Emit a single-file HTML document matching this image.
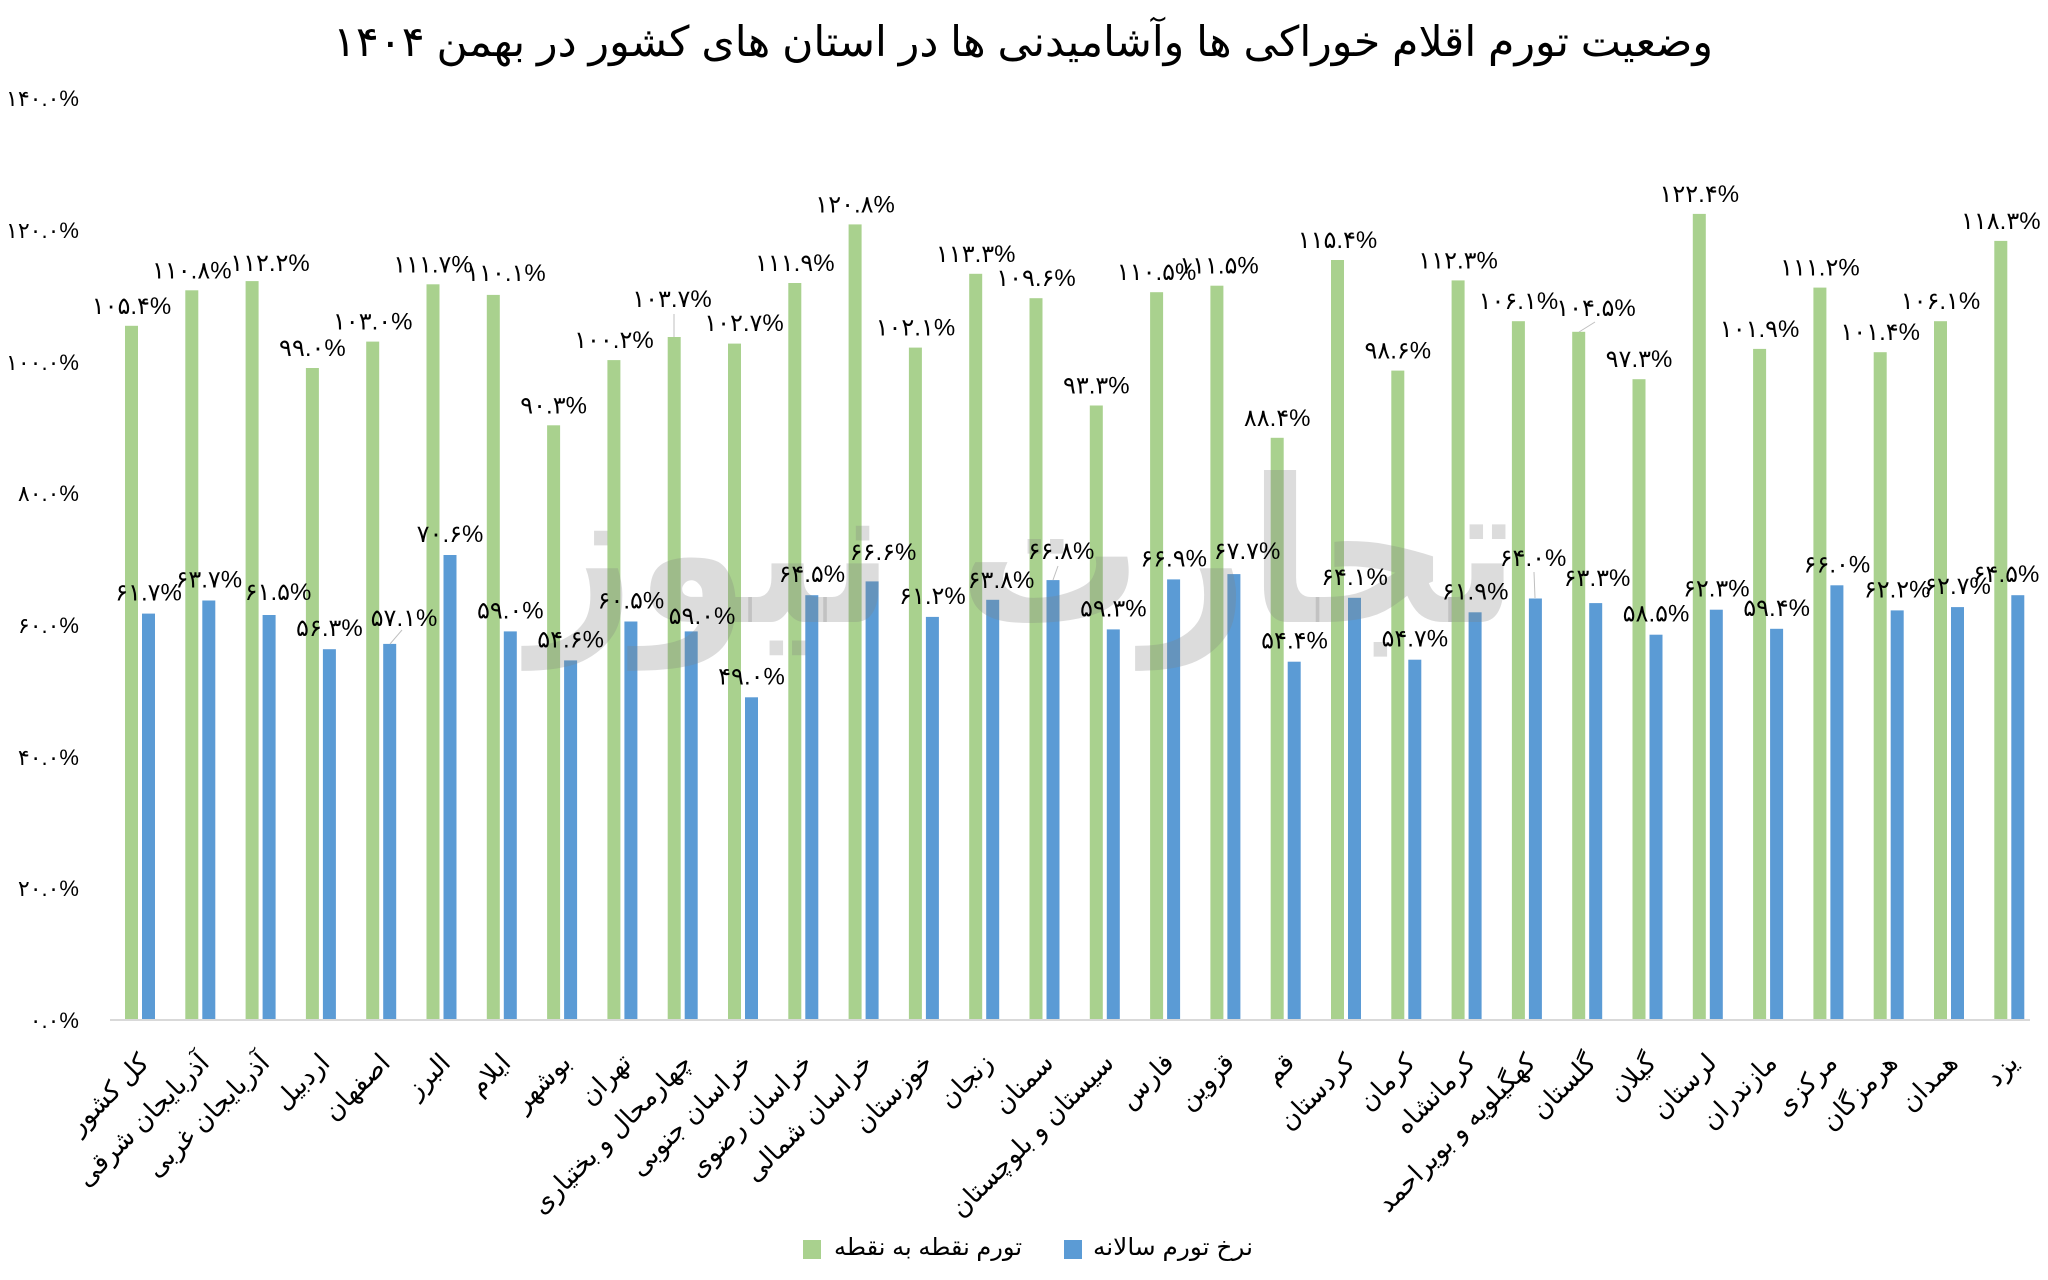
<!DOCTYPE html>
<html><head><meta charset="utf-8"><style>
html,body{margin:0;padding:0;background:#fff;}
svg{display:block;}
text{font-family:"Liberation Sans","DejaVu Sans",sans-serif;fill:#000;}
.t{font-size:42px;}
.y{font-size:22px;}
.d{font-size:24px;}
.x{font-size:26px;}
.l{font-size:24px;}
</style></head><body>
<svg width="2048" height="1280" viewBox="0 0 2048 1280" xmlns="http://www.w3.org/2000/svg">
<rect width="2048" height="1280" fill="#fff"/>
<text class="t" x="1023" y="56" text-anchor="middle" textLength="1380" lengthAdjust="spacingAndGlyphs">وضعیت تورم اقلام خوراکی ها وآشامیدنی ها در استان های کشور در بهمن ۱۴۰۴</text>

<g text-anchor="end" class="y">
<text x="79" y="106">۱۴۰.۰%</text>
<text x="79" y="238">۱۲۰.۰%</text>
<text x="79" y="370">۱۰۰.۰%</text>
<text x="79" y="501">۸۰.۰%</text>
<text x="79" y="633">۶۰.۰%</text>
<text x="79" y="765">۴۰.۰%</text>
<text x="79" y="896">۲۰.۰%</text>
<text x="79" y="1028">۰.۰%</text>
</g>

<g fill="#A9D18E">
<rect x="125" y="325.8" width="13" height="694.2"/>
<rect x="185.3" y="290.3" width="13" height="729.7"/>
<rect x="245.6" y="281.1" width="13" height="738.9"/>
<rect x="305.9" y="368" width="13" height="652"/>
<rect x="366.2" y="341.6" width="13" height="678.4"/>
<rect x="426.5" y="284.3" width="13" height="735.7"/>
<rect x="486.8" y="294.9" width="13" height="725.1"/>
<rect x="547.1" y="425.3" width="13" height="594.7"/>
<rect x="607.4" y="360.1" width="13" height="659.9"/>
<rect x="667.7" y="337" width="13" height="683"/>
<rect x="728" y="343.6" width="13" height="676.4"/>
<rect x="788.3" y="283" width="13" height="737"/>
<rect x="848.6" y="224.4" width="13" height="795.6"/>
<rect x="908.9" y="347.6" width="13" height="672.4"/>
<rect x="969.2" y="273.8" width="13" height="746.2"/>
<rect x="1029.5" y="298.2" width="13" height="721.8"/>
<rect x="1089.8" y="405.5" width="13" height="614.5"/>
<rect x="1150.1" y="292.2" width="13" height="727.8"/>
<rect x="1210.4" y="285.7" width="13" height="734.3"/>
<rect x="1270.7" y="437.8" width="13" height="582.2"/>
<rect x="1331" y="260" width="13" height="760"/>
<rect x="1391.3" y="370.6" width="13" height="649.4"/>
<rect x="1451.6" y="280.4" width="13" height="739.6"/>
<rect x="1511.9" y="321.2" width="13" height="698.8"/>
<rect x="1572.2" y="331.8" width="13" height="688.2"/>
<rect x="1632.5" y="379.2" width="13" height="640.8"/>
<rect x="1692.8" y="213.9" width="13" height="806.1"/>
<rect x="1753.1" y="348.9" width="13" height="671.1"/>
<rect x="1813.4" y="287.6" width="13" height="732.4"/>
<rect x="1873.7" y="352.2" width="13" height="667.8"/>
<rect x="1934" y="321.2" width="13" height="698.8"/>
<rect x="1994.3" y="240.9" width="13" height="779.1"/>
</g>
<g fill="#5B9BD5">
<rect x="142" y="613.6" width="13" height="406.4"/>
<rect x="202.3" y="600.5" width="13" height="419.5"/>
<rect x="262.6" y="615" width="13" height="405"/>
<rect x="322.9" y="649.2" width="13" height="370.8"/>
<rect x="383.2" y="643.9" width="13" height="376.1"/>
<rect x="443.5" y="555" width="13" height="465"/>
<rect x="503.8" y="631.4" width="13" height="388.6"/>
<rect x="564.1" y="660.4" width="13" height="359.6"/>
<rect x="624.4" y="621.5" width="13" height="398.5"/>
<rect x="684.7" y="631.4" width="13" height="388.6"/>
<rect x="745" y="697.3" width="13" height="322.7"/>
<rect x="805.3" y="595.2" width="13" height="424.8"/>
<rect x="865.6" y="581.4" width="13" height="438.6"/>
<rect x="925.9" y="616.9" width="13" height="403.1"/>
<rect x="986.2" y="599.8" width="13" height="420.2"/>
<rect x="1046.5" y="580.1" width="13" height="439.9"/>
<rect x="1106.8" y="629.4" width="13" height="390.6"/>
<rect x="1167.1" y="579.4" width="13" height="440.6"/>
<rect x="1227.4" y="574.1" width="13" height="445.9"/>
<rect x="1287.7" y="661.7" width="13" height="358.3"/>
<rect x="1348" y="597.8" width="13" height="422.2"/>
<rect x="1408.3" y="659.7" width="13" height="360.3"/>
<rect x="1468.6" y="612.3" width="13" height="407.7"/>
<rect x="1528.9" y="598.5" width="13" height="421.5"/>
<rect x="1589.2" y="603.1" width="13" height="416.9"/>
<rect x="1649.5" y="634.7" width="13" height="385.3"/>
<rect x="1709.8" y="609.7" width="13" height="410.3"/>
<rect x="1770.1" y="628.8" width="13" height="391.2"/>
<rect x="1830.4" y="585.3" width="13" height="434.7"/>
<rect x="1890.7" y="610.4" width="13" height="409.6"/>
<rect x="1951" y="607.1" width="13" height="412.9"/>
<rect x="2011.3" y="595.2" width="13" height="424.8"/>
</g>

<rect x="110" y="1019" width="1920" height="2" fill="#d9d9d9"/>

<text x="1024" y="622" text-anchor="middle" font-size="200" font-weight="bold" textLength="990" lengthAdjust="spacingAndGlyphs" style="fill:#808080;fill-opacity:0.28;font-family:'DejaVu Sans',sans-serif;">تجارت نیوز</text>

<g stroke="#bfbfbf" stroke-width="1">
<line x1="674" y1="337" x2="674" y2="314"/>
<line x1="1579" y1="332" x2="1595" y2="322"/>
<line x1="390" y1="644" x2="402" y2="630"/>
<line x1="1053" y1="580" x2="1058" y2="566"/>
<line x1="1535" y1="598" x2="1534" y2="572"/>
</g>

<g class="d" text-anchor="middle">
<text x="131.5" y="313.8">۱۰۵.۴%</text>
<text x="191.8" y="278.3">۱۱۰.۸%</text>
<text x="270" y="271">۱۱۲.۲%</text>
<text x="312.4" y="356">۹۹.۰%</text>
<text x="372.7" y="329.6">۱۰۳.۰%</text>
<text x="433" y="272.3">۱۱۱.۷%</text>
<text x="506" y="281">۱۱۰.۱%</text>
<text x="553.6" y="413.3">۹۰.۳%</text>
<text x="613.9" y="348.1">۱۰۰.۲%</text>
<text x="672" y="307">۱۰۳.۷%</text>
<text x="744" y="331">۱۰۲.۷%</text>
<text x="794.8" y="271">۱۱۱.۹%</text>
<text x="855.1" y="212.4">۱۲۰.۸%</text>
<text x="915.4" y="335.6">۱۰۲.۱%</text>
<text x="975.7" y="261.8">۱۱۳.۳%</text>
<text x="1036" y="286.2">۱۰۹.۶%</text>
<text x="1096.3" y="393.5">۹۳.۳%</text>
<text x="1156.6" y="280.2">۱۱۰.۵%</text>
<text x="1219" y="273.7">۱۱۱.۵%</text>
<text x="1277.2" y="425.8">۸۸.۴%</text>
<text x="1337.5" y="248">۱۱۵.۴%</text>
<text x="1397.8" y="358.6">۹۸.۶%</text>
<text x="1458.1" y="268.4">۱۱۲.۳%</text>
<text x="1518.4" y="309.2">۱۰۶.۱%</text>
<text x="1596" y="316">۱۰۴.۵%</text>
<text x="1639" y="367.2">۹۷.۳%</text>
<text x="1699.3" y="201.9">۱۲۲.۴%</text>
<text x="1759.6" y="336.9">۱۰۱.۹%</text>
<text x="1819.9" y="275.6">۱۱۱.۲%</text>
<text x="1880.2" y="340.2">۱۰۱.۴%</text>
<text x="1940.5" y="309.2">۱۰۶.۱%</text>
<text x="2000.8" y="228.9">۱۱۸.۳%</text>

<text x="148.5" y="600.6">۶۱.۷%</text>
<text x="208.8" y="587.5">۶۳.۷%</text>
<text x="278" y="600">۶۱.۵%</text>
<text x="329.4" y="636.2">۵۶.۳%</text>
<text x="404" y="626">۵۷.۱%</text>
<text x="450" y="542">۷۰.۶%</text>
<text x="510.3" y="618.4">۵۹.۰%</text>
<text x="570.6" y="647.4">۵۴.۶%</text>
<text x="630.9" y="608.5">۶۰.۵%</text>
<text x="702" y="624">۵۹.۰%</text>
<text x="751.5" y="684.3">۴۹.۰%</text>
<text x="811.8" y="582.2">۶۴.۵%</text>
<text x="883" y="560">۶۶.۶%</text>
<text x="932.4" y="603.9">۶۱.۲%</text>
<text x="1001" y="588">۶۳.۸%</text>
<text x="1061" y="559">۶۶.۸%</text>
<text x="1113.3" y="616.4">۵۹.۳%</text>
<text x="1173.6" y="566.4">۶۶.۹%</text>
<text x="1247" y="559">۶۷.۷%</text>
<text x="1294.5" y="648.7">۵۴.۴%</text>
<text x="1354.5" y="584.8">۶۴.۱%</text>
<text x="1414.8" y="646.7">۵۴.۷%</text>
<text x="1475.1" y="599.3">۶۱.۹%</text>
<text x="1533" y="566">۶۴.۰%</text>
<text x="1597" y="586">۶۳.۳%</text>
<text x="1656" y="621.7">۵۸.۵%</text>
<text x="1716.3" y="596.7">۶۲.۳%</text>
<text x="1776.6" y="615.8">۵۹.۴%</text>
<text x="1836.9" y="572.3">۶۶.۰%</text>
<text x="1897.2" y="597.4">۶۲.۲%</text>
<text x="1957.5" y="594.1">۶۲.۷%</text>
<text x="2006" y="582">۶۴.۵%</text>
</g>

<g class="x" text-anchor="end">
<text transform="translate(144,1058) rotate(-45)" y="9">کل کشور</text>
<text transform="translate(204.3,1058) rotate(-45)" y="9">آذربایجان شرقی</text>
<text transform="translate(264.6,1058) rotate(-45)" y="9">آذربایجان غربی</text>
<text transform="translate(324.9,1058) rotate(-45)" y="9">اردبیل</text>
<text transform="translate(385.2,1058) rotate(-45)" y="9">اصفهان</text>
<text transform="translate(445.5,1058) rotate(-45)" y="9">البرز</text>
<text transform="translate(505.8,1058) rotate(-45)" y="9">ایلام</text>
<text transform="translate(566.1,1058) rotate(-45)" y="9">بوشهر</text>
<text transform="translate(626.4,1058) rotate(-45)" y="9">تهران</text>
<text transform="translate(686.7,1058) rotate(-45)" y="9">چهارمحال و بختیاری</text>
<text transform="translate(747,1058) rotate(-45)" y="9">خراسان جنوبی</text>
<text transform="translate(807.3,1058) rotate(-45)" y="9">خراسان رضوی</text>
<text transform="translate(867.6,1058) rotate(-45)" y="9">خراسان شمالی</text>
<text transform="translate(927.9,1058) rotate(-45)" y="9">خوزستان</text>
<text transform="translate(988.2,1058) rotate(-45)" y="9">زنجان</text>
<text transform="translate(1048.5,1058) rotate(-45)" y="9">سمنان</text>
<text transform="translate(1108.8,1058) rotate(-45)" y="9">سیستان و بلوچستان</text>
<text transform="translate(1169.1,1058) rotate(-45)" y="9">فارس</text>
<text transform="translate(1229.4,1058) rotate(-45)" y="9">قزوین</text>
<text transform="translate(1289.7,1058) rotate(-45)" y="9">قم</text>
<text transform="translate(1350,1058) rotate(-45)" y="9">کردستان</text>
<text transform="translate(1410.3,1058) rotate(-45)" y="9">کرمان</text>
<text transform="translate(1470.6,1058) rotate(-45)" y="9">کرمانشاه</text>
<text transform="translate(1530.9,1058) rotate(-45)" y="9">کهگیلویه و بویراحمد</text>
<text transform="translate(1591.2,1058) rotate(-45)" y="9">گلستان</text>
<text transform="translate(1651.5,1058) rotate(-45)" y="9">گیلان</text>
<text transform="translate(1711.8,1058) rotate(-45)" y="9">لرستان</text>
<text transform="translate(1772.1,1058) rotate(-45)" y="9">مازندران</text>
<text transform="translate(1832.4,1058) rotate(-45)" y="9">مرکزی</text>
<text transform="translate(1892.7,1058) rotate(-45)" y="9">هرمزگان</text>
<text transform="translate(1953,1058) rotate(-45)" y="9">همدان</text>
<text transform="translate(2013.3,1058) rotate(-45)" y="9">یزد</text>
</g>

<rect x="803" y="1240" width="18" height="19" fill="#A9D18E"/>
<text class="l" x="834" y="1255" textLength="188" lengthAdjust="spacingAndGlyphs">تورم نقطه به نقطه</text>
<rect x="1064" y="1240" width="18" height="19" fill="#5B9BD5"/>
<text class="l" x="1093" y="1255" textLength="160" lengthAdjust="spacingAndGlyphs">نرخ تورم سالانه</text>
</svg>
</body></html>
